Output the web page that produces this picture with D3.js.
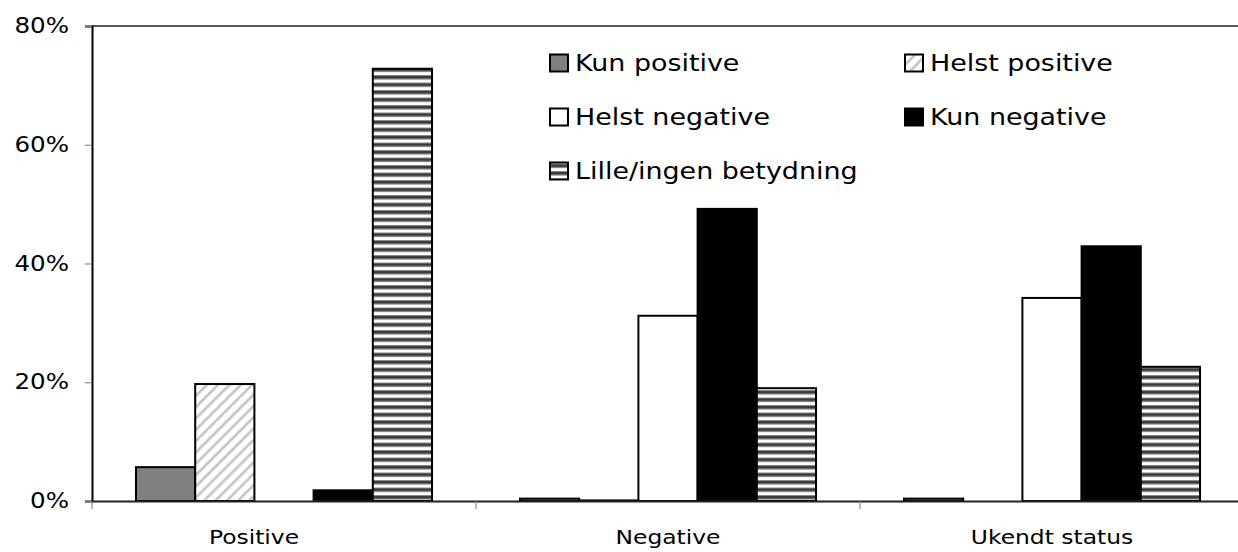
<!DOCTYPE html>
<html>
<head>
<meta charset="utf-8">
<script src="https://cdn.jsdelivr.net/npm/d3@7/dist/d3.min.js"></script>
<style>
  html, body { margin: 0; padding: 0; background: #fff; }
  svg { display: block; font-family: "DejaVu Sans", Verdana, sans-serif; }
</style>
</head>
<body>
<svg id="chart" width="1238" height="552"></svg>
<script>
// Share of answers per group (percent)
const categories = ["Positive", "Negative", "Ukendt status"];
const seriesNames = ["Kun positive", "Helst positive", "Helst negative", "Kun negative", "Lille/ingen betydning"];
const kunPositive = [5.7, 0.4, 0.4];
const helstPositive = [19.7, 0.1, 0.0];
const helstNegative = [0.0, 31.2, 34.2];
const kunNegative = [1.8, 49.2, 42.9];
const lilleIngen = [72.8, 19.0, 22.6];
const yTicks = [0, 20, 40, 60, 80];

const seriesValues = [kunPositive, helstPositive, helstNegative, kunNegative, lilleIngen];

const W = 1238, H = 552;
const margin = { left: 92, top: 26, right: -6, bottom: 51 };
const plotRight = W - margin.right;
const plotBottom = H - margin.bottom;
const stretch = 1.17; // wide lettering

const svg = d3.select("#chart");
const defs = svg.append("defs");

// Light diagonal hatch
const diag = defs.append("pattern")
  .attr("id", "diag").attr("patternUnits", "userSpaceOnUse")
  .attr("width", 8).attr("height", 8)
  .attr("patternTransform", "rotate(45)");
diag.append("rect").attr("width", 8).attr("height", 8).attr("fill", "#fff");
diag.append("rect").attr("x", 0).attr("width", 2.6).attr("height", 8).attr("fill", "#c4c4c4");

// Horizontal stripes
const horiz = defs.append("pattern")
  .attr("id", "horiz").attr("patternUnits", "userSpaceOnUse")
  .attr("width", 8).attr("height", 7.5);
horiz.append("rect").attr("width", 8).attr("height", 7.5).attr("fill", "#fff");
horiz.append("rect").attr("y", 0).attr("width", 8).attr("height", 1).attr("fill", "#8a8a8a");
horiz.append("rect").attr("y", 1).attr("width", 8).attr("height", 2.6).attr("fill", "#333");
horiz.append("rect").attr("y", 3.6).attr("width", 8).attr("height", 1).attr("fill", "#8a8a8a");

const fills = ["#808080", "url(#diag)", "#ffffff", "#000000", "url(#horiz)"];

const x0 = d3.scaleBand().domain(categories).range([margin.left, plotRight]).paddingInner(0).paddingOuter(0);
const groupPad = 44;
const x1 = d3.scaleBand().domain(seriesNames).range([groupPad, x0.bandwidth() - groupPad]).padding(0);
const y = d3.scaleLinear().domain([0, 80]).range([plotBottom, margin.top]);

// Top border of plot area
svg.append("line")
  .attr("x1", margin.left).attr("x2", plotRight)
  .attr("y1", y(80)).attr("y2", y(80))
  .attr("stroke", "#222").attr("stroke-width", 1.6);

// Bars
const groups = svg.append("g").selectAll("g")
  .data(categories).join("g")
  .attr("transform", d => `translate(${x0(d)},0)`);

groups.selectAll("rect")
  .data((c, ci) => seriesNames.map((s, si) => ({ s, si, v: seriesValues[si][ci] })).filter(d => d.v > 0))
  .join("rect")
  .attr("x", d => x1(d.s))
  .attr("width", x1.bandwidth())
  .attr("y", d => y(d.v))
  .attr("height", d => y(0) - y(d.v))
  .attr("fill", d => fills[d.si])
  .attr("stroke", "#000")
  .attr("stroke-width", 2);

// Y axis
const yAxis = svg.append("g")
  .attr("transform", `translate(${margin.left},0)`)
  .call(d3.axisLeft(y).tickValues(yTicks).tickFormat(d => d + "%").tickSize(7).tickPadding(0));
yAxis.select(".domain").attr("stroke", "#000").attr("stroke-width", 2);
yAxis.selectAll(".tick line").attr("stroke", "#777").attr("stroke-width", 1);
yAxis.selectAll(".tick text")
  .attr("font-size", 21).attr("fill", "#000")
  .attr("font-family", "DejaVu Sans, Verdana, sans-serif")
  .attr("x", -23 / stretch)
  .attr("transform", `scale(${stretch},1)`);

// X axis line
const xAxis = svg.append("g")
  .attr("transform", `translate(0,${plotBottom})`)
  .call(d3.axisBottom(x0).tickSize(0).tickFormat(""));
xAxis.select(".domain").attr("stroke", "#222").attr("stroke-width", 2);

// Category separator ticks
svg.append("g").selectAll("line")
  .data(categories).join("line")
  .attr("x1", d => x0(d)).attr("x2", d => x0(d))
  .attr("y1", plotBottom).attr("y2", plotBottom + 8)
  .attr("stroke", "#777").attr("stroke-width", 1);

// Category labels under each group (first one sits a little left)
const labelNudge = [-30, 0, 0];
svg.append("g").selectAll("text")
  .data(categories).join("text")
  .attr("transform", (d, i) => `translate(${x0(d) + x0.bandwidth() / 2 + labelNudge[i]},${plotBottom + 43}) scale(${stretch},1)`)
  .attr("text-anchor", "middle")
  .attr("font-size", 20).attr("fill", "#000")
  .text(d => d);

// Legend
const legendPos = [
  { x: 550, y: 63 }, { x: 905, y: 63 },
  { x: 550, y: 117 }, { x: 905, y: 117 },
  { x: 550, y: 171 }
];
const legend = svg.append("g").selectAll("g")
  .data(seriesNames).join("g")
  .attr("transform", (d, i) => `translate(${legendPos[i].x},${legendPos[i].y})`);
legend.append("rect")
  .attr("x", 0).attr("y", -8.5).attr("width", 18).attr("height", 17)
  .attr("fill", (d, i) => fills[i]).attr("stroke", "#000").attr("stroke-width", 2);
legend.append("text")
  .attr("transform", `translate(25,0) scale(${stretch},1)`)
  .attr("dy", "0.36em")
  .attr("font-size", 23).attr("fill", "#000")
  .text(d => d);
</script>
</body>
</html>
